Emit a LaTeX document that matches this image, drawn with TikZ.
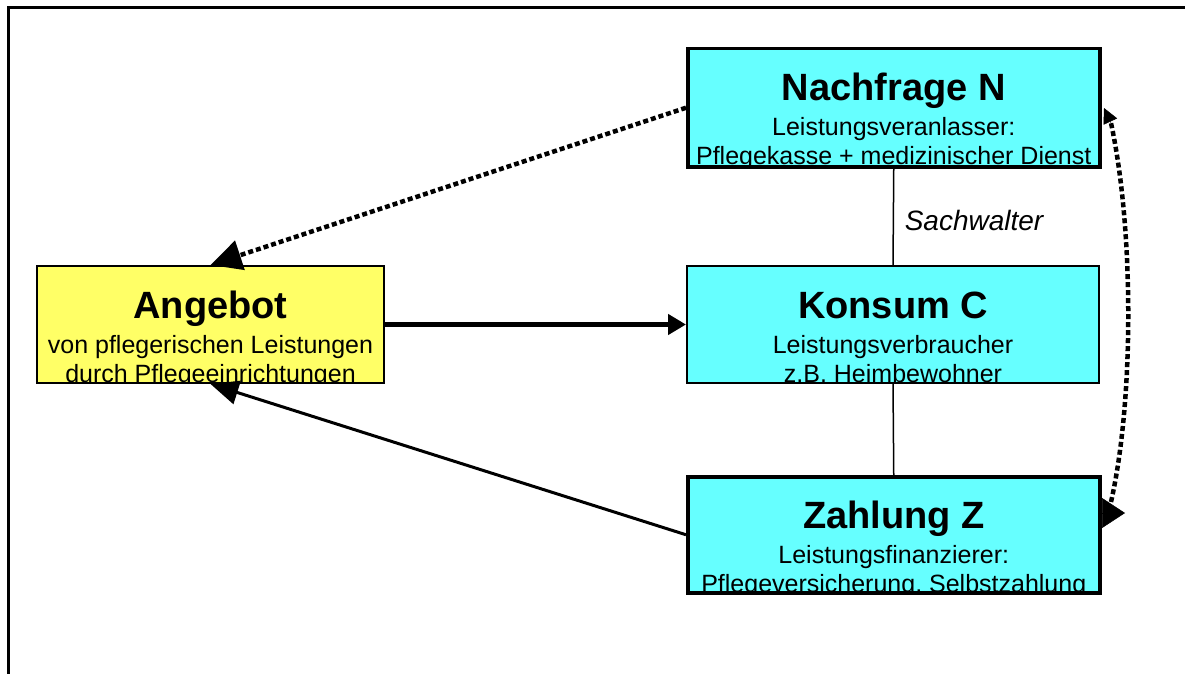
\documentclass[tikz,border=0pt]{standalone}
\usepackage{fontspec}
\setmainfont{Liberation Sans}
\usetikzlibrary{arrows.meta}
\definecolor{boxcyan}{HTML}{66FFFF}
\definecolor{boxyellow}{HTML}{FFFF66}
\newcommand{\myboxlines}[3]{%
  \node[titletext] at ([yshift=-52pt]path picture bounding box.north) {#1};
  \node[subtext] at ([yshift=-87pt]path picture bounding box.north) {#2};
  \node[subtext] at ([yshift=-116pt]path picture bounding box.north) {#3};
}
\tikzset{
  plaintext/.style={draw=none, fill=none, anchor=base, inner sep=0pt, minimum width=0pt, minimum height=0pt, text=black},
  titletext/.style={plaintext, font=\fontsize{38}{40}\selectfont\bfseries},
  subtext/.style={plaintext, font=\fontsize{25}{29}\selectfont},
  box/.style={draw=black, rectangle, anchor=north west, inner sep=0pt},
  thickbox/.style={box, line width=3.5pt},
  thinbox/.style={box, line width=2pt},
  dotline/.style={line width=4.5pt, dash pattern=on 5pt off 3pt},
}
\begin{document}
\begin{tikzpicture}[x=1pt, y=-1pt]
\useasboundingbox (0,0) rectangle (1185,674);
% frame
\coordinate (fbl) at (8,676);
\coordinate (ftl) at (8,8);
\coordinate (ftr) at (1187,8);
\draw[line width=3pt] (fbl) -- (ftl) -- (ftr);

% boxes
\node[thickbox, fill=boxcyan, minimum width=412pt, minimum height=118pt,
  path picture={\myboxlines{Nachfrage N}{Leistungsveranlasser:}{Pflegekasse + medizinischer Dienst}}]
  (N) at (686,47) {};
\node[thinbox, fill=boxyellow, minimum width=347pt, minimum height=117pt,
  path picture={\myboxlines{Angebot}{von pflegerischen Leistungen}{durch Pflegeeinrichtungen}}]
  (A) at (36,265) {};
\node[thinbox, fill=boxcyan, minimum width=412pt, minimum height=117pt,
  path picture={\myboxlines{Konsum C}{Leistungsverbraucher}{z.B. Heimbewohner}}]
  (C) at (686,265) {};
\node[thickbox, fill=boxcyan, minimum width=412pt, minimum height=116pt,
  path picture={\myboxlines{Zahlung Z}{Leistungsfinanzierer:}{Pflegeversicherung, Selbstzahlung}}]
  (Z) at (686,475) {};

% vertical links
\draw[line width=1.5pt] (N.south) -- (C.north);
\draw[line width=1.5pt] (C.south) -- (Z.north);
\node[plaintext, font=\fontsize{28}{30}\selectfont\itshape] (S) at (974,230) {Sachwalter};

% arrows
\draw[line width=5pt, -{Triangle[length=18pt,width=20pt]}] (A.east) -- (C.west);
\draw[line width=3pt, -{Triangle[length=28pt,width=24pt]}] (Z.west) -- (A.south);
\draw[dotline, -{Triangle[length=31pt,width=30pt]}] (N.west) -- (A.north);

% curved dotted double arrow on the right
\coordinate (nbase) at (1111,123);
\coordinate (ntip) at (1104,108);
\coordinate (zbase) at (1102,513);
\coordinate (ztip) at (1125,513);
\coordinate (zend) at (1111,502);
\draw[dotline] (zend) .. controls (1134,400) and (1134,230) .. (nbase);
\draw[line width=0.5pt, -{Triangle[length=15pt,width=15pt]}] (nbase) -- (ntip);
\draw[line width=0.5pt, -{Triangle[length=23pt,width=30pt]}] (zbase) -- (ztip);
\end{tikzpicture}
\end{document}
